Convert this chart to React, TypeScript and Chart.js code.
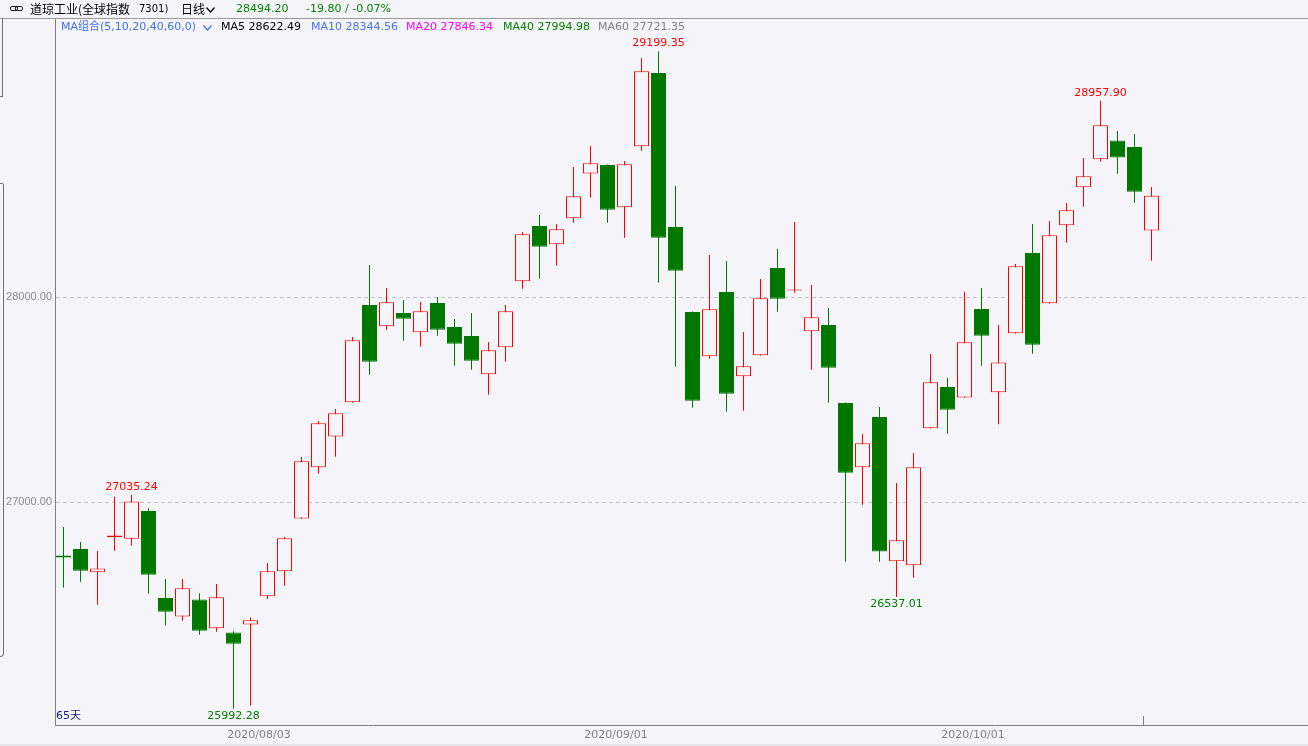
import React, { useEffect, useRef } from 'react';
import { Chart, registerables } from 'chart.js';

Chart.register(...registerables);

const dates = [
  '2020/07/16', '2020/07/17', '2020/07/20', '2020/07/21', '2020/07/22', '2020/07/23', '2020/07/24',
  '2020/07/27', '2020/07/28', '2020/07/29', '2020/07/30', '2020/07/31',
  '2020/08/03', '2020/08/04', '2020/08/05', '2020/08/06', '2020/08/07',
  '2020/08/10', '2020/08/11', '2020/08/12', '2020/08/13', '2020/08/14',
  '2020/08/17', '2020/08/18', '2020/08/19', '2020/08/20', '2020/08/21',
  '2020/08/24', '2020/08/25', '2020/08/26', '2020/08/27', '2020/08/28', '2020/08/31',
  '2020/09/01', '2020/09/02', '2020/09/03', '2020/09/04',
  '2020/09/08', '2020/09/09', '2020/09/10', '2020/09/11',
  '2020/09/14', '2020/09/15', '2020/09/16', '2020/09/17', '2020/09/18',
  '2020/09/21', '2020/09/22', '2020/09/23', '2020/09/24', '2020/09/25',
  '2020/09/28', '2020/09/29', '2020/09/30', '2020/10/01', '2020/10/02',
  '2020/10/05', '2020/10/06', '2020/10/07', '2020/10/08', '2020/10/09',
  '2020/10/12', '2020/10/13', '2020/10/14', '2020/10/15',
];

const opens = [
  26739, 26771, 26657, 26828, 26821, 26956, 26532, 26442, 26525, 26384, 26364, 26403,
  26540, 26662, 26920, 27169, 27320, 27486, 27961, 27857, 27922, 27828, 27971, 27854,
  27810, 27623, 27755, 28077, 28346, 28257, 28384, 28603, 28644, 28438, 28735, 29093,
  28341, 27927, 27711, 28024, 27613, 27716, 28141, 28032, 27833, 27863, 27483, 27169,
  27415, 26711, 26691, 27360, 27561, 27510, 27941, 27535, 27823, 28215, 27969, 28350,
  28535, 28672, 28764, 28732, 28325,
];

const highs = [
  26878, 26805, 26761, 27026, 27035.24, 26969, 26624, 26624, 26555, 26600, 26369, 26438,
  26702, 26829, 27220, 27395, 27454, 27805, 28156, 28044, 27985, 27976, 28000, 27893,
  27922, 27780, 27961, 28317, 28400, 28356, 28634, 28737, 28646, 28663, 29166, 29199.35,
  28541, 27929, 28205, 28176, 27829, 28088, 28234, 28366, 28059, 27946, 27485, 27332,
  27463, 27093, 27239, 27722, 27605, 28026, 28044, 27863, 28161, 28356, 28371, 28459,
  28678, 28957.90, 28810, 28795, 28537,
];

const lows = [
  26582, 26611, 26499, 26762, 26787, 26553, 26397, 26421, 26353, 26367, 25992.28, 26006,
  26527, 26592, 26918, 27138, 27221, 27484, 27621, 27840, 27787, 27758, 27811, 27665,
  27645, 27523, 27684, 28040, 28089, 28153, 28362, 28484, 28362, 28289, 28714, 28070,
  27660, 27460, 27699, 27440, 27445, 27714, 27928, 28021, 27645, 27484, 26709, 26987,
  26709, 26537.01, 26631, 27358, 27333, 27508, 27665, 27379, 27821, 27723, 27967, 28265,
  28440, 28660, 28601, 28460, 28177,
];

const closes = [
  26729, 26665, 26676, 26837, 27003, 26645, 26465, 26579, 26372, 26535, 26309, 26423,
  26662, 26823, 27199, 27384, 27433, 27789, 27684, 27974, 27894, 27930, 27840, 27772,
  27689, 27740, 27930, 28306, 28245, 28330, 28491, 28652, 28426, 28647, 29101, 28289,
  28128, 27494, 27940, 27528, 27662, 27994, 27992, 28036, 27901, 27655, 27143, 27286,
  26758, 26813, 27169, 27584, 27450, 27779, 27811, 27681, 28150, 27767, 28301, 28423,
  28589, 28838, 28680, 28514, 28494.20,
];

const xTickIndices = [12, 33, 54];
const yTickValues = [27000, 28000];
const markedHighs = [4, 35, 61];
const markedLows = [10, 49];

const BG = '#f5f5f9';
const UP = '#ff0000';
const DOWN = '#007800';

const maLegend = [
  { text: 'MA组合(5,10,20,40,60,0)', color: '#3f6fe8', x: 61 },
  { text: 'MA5 28622.49', color: '#000000', x: 221 },
  { text: 'MA10 28344.56', color: '#4a72e6', x: 311 },
  { text: 'MA20 27846.34', color: '#ff00ff', x: 406 },
  { text: 'MA40 27994.98', color: '#008000', x: 503 },
  { text: 'MA60 27721.35', color: '#808080', x: 598 },
];

const Chevron = ({ color, x, y }: { color: string; x: number; y: number }) => (
  <svg width="9" height="6" style={{ position: 'absolute', left: x, top: y }}>
    <polyline points="0.5,0.5 4.5,5 8.5,0.5" fill="none" stroke={color} strokeWidth="1.2" />
  </svg>
);

export default function App() {
  const ref = useRef<HTMLCanvasElement>(null);

  useEffect(() => {
    const canvas = ref.current;
    if (!canvas) return;
    const isUp = closes.map((c, i) => c >= opens[i]);
    const bodyData = dates.map((_, i) => ({ x: i, y: [opens[i], closes[i]] }));
    const wickData = dates.map((_, i) => ({ x: i, y: [lows[i], highs[i]] }));

    const markPlugin = {
      id: 'marks',
      afterDatasetsDraw(chart: any) {
        const { ctx, chartArea } = chart;
        const xs = chart.scales.x;
        const ys = chart.scales.y;
        ctx.save();
        ctx.font = '11px "DejaVu Sans"';
        ctx.textAlign = 'center';
        ctx.fillStyle = UP;
        ctx.textBaseline = 'bottom';
        markedHighs.forEach((i) => {
          ctx.fillText(highs[i].toFixed(2), xs.getPixelForValue(i), ys.getPixelForValue(highs[i]) - 2);
        });
        ctx.fillStyle = '#008000';
        ctx.textBaseline = 'top';
        markedLows.forEach((i) => {
          ctx.fillText(lows[i].toFixed(2), xs.getPixelForValue(i), ys.getPixelForValue(lows[i]) + 2);
        });
        const px = Math.round(xs.getPixelForValue(dates.length - 1.5)) + 0.5;
        ctx.strokeStyle = '#808080';
        ctx.lineWidth = 1;
        ctx.beginPath();
        ctx.moveTo(px, chartArea.bottom - 9);
        ctx.lineTo(px, chartArea.bottom);
        ctx.stroke();
        ctx.restore();
      },
    };

    const chart = new Chart(canvas, {
      type: 'bar',
      data: {
        datasets: [
          {
            label: 'body',
            data: bodyData as any,
            backgroundColor: isUp.map((u) => (u ? BG : DOWN)),
            borderColor: isUp.map((u) => (u ? UP : DOWN)),
            borderWidth: 1,
            borderSkipped: false,
            barThickness: 15,
            grouped: false,
            inflateAmount: 0,
            order: 0,
          } as any,
          {
            label: 'wick',
            data: wickData as any,
            backgroundColor: isUp.map((u) => (u ? UP : DOWN)),
            borderWidth: 0,
            barThickness: 1,
            grouped: false,
            inflateAmount: 0,
            order: 1,
          } as any,
        ],
      },
      options: {
        responsive: false,
        animation: false,
        devicePixelRatio: 1,
        layout: { padding: { top: 18, left: 0, right: 0, bottom: 0 } },
        plugins: { legend: { display: false }, tooltip: { enabled: false } },
        scales: {
          x: {
            type: 'linear',
            min: -0.5,
            max: -0.5 + 1253 / 17,
            offset: false,
            grid: { display: false, drawTicks: false },
            border: { display: true, color: '#808080', width: 1 },
            afterBuildTicks: (ax: any) => {
              ax.ticks = xTickIndices.map((i) => ({ value: i - 0.5 }));
            },
            afterFit: (ax: any) => {
              ax.height = 21;
            },
            ticks: {
              autoSkip: false,
              maxRotation: 0,
              padding: 4,
              color: '#7f7f7f',
              font: { family: 'DejaVu Sans', size: 11 },
              callback: (v: any) => dates[Math.round(Number(v) + 0.5)] ?? '',
            },
          },
          y: {
            type: 'linear',
            min: 25912.2,
            max: 29361,
            grid: { color: '#c4c4c8', drawTicks: false },
            border: { display: true, color: '#808080', width: 1, dash: [4, 3] },
            afterBuildTicks: (ax: any) => {
              ax.ticks = yTickValues.map((v) => ({ value: v }));
            },
            afterFit: (ax: any) => {
              ax.width = 55;
            },
            ticks: {
              padding: 3,
              color: '#8a8a8a',
              font: { family: 'Liberation Sans', size: 11 },
              callback: (v: any) => Number(v).toFixed(2),
            },
          },
        },
      } as any,
      plugins: [markPlugin],
    });

    return () => chart.destroy();
  }, []);

  const base: React.CSSProperties = {
    position: 'absolute',
    whiteSpace: 'nowrap',
    lineHeight: '14px',
  };

  return (
    <div
      style={{
        position: 'fixed',
        left: 0,
        top: 0,
        width: 1308,
        height: 746,
        background: BG,
        overflow: 'hidden',
        fontFamily: '"DejaVu Sans", sans-serif',
      }}
    >
      <canvas ref={ref} width={1308} height={746} style={{ position: 'absolute', left: 0, top: 0, display: 'block' }} />
      {/* header separator */}
      <div style={{ position: 'absolute', left: 0, top: 18, width: 1308, height: 1, background: '#9a9a9a' }} />
      {/* collapsed side panel edges */}
      <div style={{ position: 'absolute', left: 0, top: 18, width: 2, height: 78, borderRight: '1px solid #707070', borderBottom: '1px solid #707070' }} />
      <div
        style={{
          position: 'absolute',
          left: -2,
          top: 183,
          width: 5,
          height: 472,
          borderRight: '1px solid #707070',
          borderTop: '1px solid #707070',
          borderBottom: '1px solid #707070',
          borderBottomRightRadius: 4,
          borderTopRightRadius: 2,
        }}
      />
      {/* header */}
      <div style={{ position: 'absolute', left: 10, top: 6, width: 13, height: 5 }}>
        <div style={{ position: 'absolute', left: 0, top: 0, width: 6, height: 3, border: '1px solid #202020', borderRadius: 2 }} />
        <div style={{ position: 'absolute', left: 5, top: 0, width: 6, height: 3, border: '1px solid #202020', borderRadius: 2 }} />
      </div>
      <span style={{ ...base, left: 30, top: 2, fontSize: 12, color: '#000', fontFamily: '"Noto Sans CJK SC", sans-serif' }}>
        道琼工业(全球指数
      </span>
      <span style={{ ...base, left: 139, top: 2, fontSize: 10, color: '#000', fontFamily: '"DejaVu Sans", sans-serif' }}>7301)</span>
      <span style={{ ...base, left: 181, top: 2, fontSize: 12, color: '#000', fontFamily: '"Noto Sans CJK SC", sans-serif' }}>日线</span>
      <Chevron color="#000" x={206} y={7} />
      <span style={{ ...base, left: 236, top: 2, fontSize: 11, color: '#008000' }}>28494.20</span>
      <span style={{ ...base, left: 306, top: 2, fontSize: 11, color: '#008000' }}>-19.80 / -0.07%</span>
      {/* MA legend */}
      {maLegend.map((m, i) => (
        <span
          key={i}
          style={{
            ...base,
            left: m.x,
            top: 20,
            fontSize: 11,
            color: m.color,
            fontFamily: i === 0 ? '"DejaVu Sans", "Noto Sans CJK SC", sans-serif' : '"DejaVu Sans", sans-serif',
          }}
        >
          {m.text}
        </span>
      ))}
      <Chevron color="#3f6fe8" x={203} y={25} />
      <span style={{ ...base, left: 56, top: 709, fontSize: 11, color: '#1a1a8c', fontFamily: '"DejaVu Sans", "Noto Sans CJK SC", sans-serif' }}>
        65天
      </span>
      <div style={{ position: 'absolute', left: 0, top: 744, width: 1308, height: 2, background: '#e6e6ea' }} />
    </div>
  );
}
